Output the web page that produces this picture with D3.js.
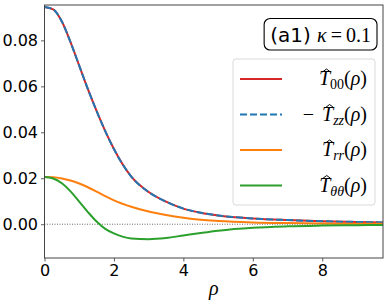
<!DOCTYPE html>
<html>
<head>
<meta charset="utf-8">
<script src="https://cdn.jsdelivr.net/npm/d3@7"></script>
<style>
  body { margin: 0; background: #fff; }
  svg { display: block; }
</style>
</head>
<body>
<svg id="chart" width="391" height="304"></svg>
<script>
// values
var rho      = [0, 0.25, 0.5, 0.75, 1.0, 1.25, 1.5, 1.75, 2.0, 2.5, 3.0, 3.5, 4.0, 4.5, 5.0, 6.0, 7.0, 8.0, 9.0, 9.75];
var t00      = [0.0945, 0.0935, 0.0882, 0.0792, 0.0690, 0.0588, 0.0493, 0.0405, 0.0327, 0.0207, 0.0140, 0.0098, 0.0068, 0.0050, 0.0038, 0.0025, 0.0018, 0.0013, 0.0010, 0.0008];
var minusTzz = [0.0945, 0.0935, 0.0882, 0.0792, 0.0690, 0.0588, 0.0493, 0.0405, 0.0327, 0.0207, 0.0140, 0.0098, 0.0068, 0.0050, 0.0038, 0.0025, 0.0018, 0.0013, 0.0010, 0.0008];
var trr      = [0.0205, 0.0204, 0.0199, 0.0190, 0.0177, 0.0161, 0.0142, 0.0122, 0.0104, 0.0076, 0.0055, 0.0040, 0.0028, 0.0019, 0.0014, 0.0008, 0.0005, 0.0003, 0.0002, 0.0002];
var ttt      = [0.0205, 0.0199, 0.0178, 0.0143, 0.0098, 0.0053, 0.0012, -0.0020, -0.0040, -0.0062, -0.0065, -0.0060, -0.0049, -0.0038, -0.0028, -0.0015, -0.0009, -0.0006, -0.0004, -0.0003];

var xTicks = [0, 2, 4, 6, 8];
var yTicks = [0.00, 0.02, 0.04, 0.06, 0.08];

var series = [
    {sub: '00', neg: false, vals: t00,      color: '#d62728', dash: null},
    {sub: 'zz', neg: true,  vals: minusTzz, color: '#1f77b4', dash: '7,3'},
    {sub: 'rr', neg: false, vals: trr,      color: '#ff7f0e', dash: null},
    {sub: 'θθ', neg: false, vals: ttt,      color: '#2ca02c', dash: null}
];

var svg = d3.select('#chart');
var plotL = 44.5, plotR = 383, plotT = 5, plotB = 258;

var x = d3.scaleLinear().domain([0, 9.75]).range([plotL, plotR]);
var y = d3.scaleLinear().domain([-0.0147, 0.0954]).range([plotB, plotT]);

svg.append('defs').append('clipPath').attr('id', 'clip')
    .append('rect')
    .attr('x', plotL).attr('y', plotT)
    .attr('width', plotR - plotL).attr('height', plotB - plotT);

// axes
var xAxis = svg.append('g')
    .attr('transform', 'translate(0,' + plotB + ')')
    .call(d3.axisBottom(x).tickValues(xTicks).tickFormat(d3.format('d')).tickSizeInner(3.5).tickSizeOuter(0).tickPadding(3));
var yAxis = svg.append('g')
    .attr('transform', 'translate(' + plotL + ',0)')
    .call(d3.axisLeft(y).tickValues(yTicks).tickFormat(d3.format('.2f')).tickSizeInner(3.5).tickSizeOuter(0).tickPadding(3));

[xAxis, yAxis].forEach(function(g) {
    g.select('.domain').remove();
    g.selectAll('.tick line').attr('stroke', '#333').attr('stroke-width', 0.8);
    g.selectAll('.tick text')
        .attr('fill', '#000')
        .style('font-family', 'DejaVu Sans')
        .style('font-size', '16px');
});

// zero reference line
svg.append('line')
    .attr('x1', plotL).attr('x2', plotR)
    .attr('y1', y(0)).attr('y2', y(0))
    .attr('stroke', '#000').attr('stroke-width', 0.6)
    .attr('stroke-dasharray', '1,1.5');

var line = d3.line()
    .x(function(d) { return x(d[0]); })
    .y(function(d) { return y(d[1]); })
    .curve(d3.curveMonotoneX);

var plot = svg.append('g').attr('clip-path', 'url(#clip)');
series.forEach(function(s) {
    plot.append('path')
        .datum(rho.map(function(r, i) { return [r, s.vals[i]]; }))
        .attr('d', line)
        .attr('fill', 'none')
        .attr('stroke', s.color)
        .attr('stroke-width', 2)
        .attr('stroke-dasharray', s.dash);
});

// frame
svg.append('rect')
    .attr('x', plotL).attr('y', plotT)
    .attr('width', plotR - plotL).attr('height', plotB - plotT)
    .attr('fill', 'none').attr('stroke', '#444').attr('stroke-width', 1);

// x label
svg.append('text')
    .attr('x', (plotL + plotR) / 2).attr('y', 295)
    .attr('text-anchor', 'middle')
    .style('font-family', 'Liberation Serif')
    .style('font-style', 'italic')
    .style('font-size', '20px')
    .text('ρ');

// legend
var legend = svg.append('g');
legend.append('rect')
    .attr('x', 233).attr('y', 59).attr('width', 142).attr('height', 146).attr('rx', 3)
    .attr('fill', '#fff').attr('fill-opacity', 0.8)
    .attr('stroke', '#d9d9d9').attr('stroke-width', 1);

series.forEach(function(s, i) {
    var yy = 79 + i * 35.5;
    legend.append('line')
        .attr('x1', 240).attr('x2', 282).attr('y1', yy).attr('y2', yy)
        .attr('stroke', s.color).attr('stroke-width', 2)
        .attr('stroke-dasharray', s.dash);

    var t = legend.append('text')
        .attr('x', 367).attr('y', yy + 6)
        .attr('text-anchor', 'end')
        .style('font-family', 'Liberation Serif')
        .style('font-size', '20px');
    if (s.neg) t.append('tspan').text('−');
    t.append('tspan').attr('dx', s.neg ? 8 : 0).style('font-style', 'italic').text('T');
    t.append('tspan').attr('dy', 4).style('font-size', '14px')
        .style('font-style', /\d/.test(s.sub) ? 'normal' : 'italic').text(s.sub);
    t.append('tspan').attr('dy', -4).text('(');
    t.append('tspan').style('font-style', 'italic').text('ρ');
    t.append('tspan').text(')');

    // hat over the T, drawn as a small chevron
    var idx = s.neg ? 1 : 0;
    var node = t.node();
    var p0 = node.getStartPositionOfChar(idx), p1 = node.getEndPositionOfChar(idx);
    var cx = (p0.x + p1.x) / 2 + 2, hy = yy - 10;
    legend.append('path')
        .attr('d', 'M' + (cx - 4) + ',' + (hy + 3) + 'L' + cx + ',' + hy + 'L' + (cx + 4) + ',' + (hy + 3))
        .attr('fill', 'none').attr('stroke', '#000').attr('stroke-width', 1);
});

// title box
var title = svg.append('g');
var tt = title.append('text')
    .attr('x', 371).attr('y', 42)
    .attr('text-anchor', 'end')
    .style('font-size', '20px');
tt.append('tspan').style('font-family', 'DejaVu Sans').text('(a1) ');
tt.append('tspan').style('font-family', 'Liberation Serif').style('font-style', 'italic').text('κ');
tt.append('tspan').style('font-family', 'Liberation Serif').text('\u2009=\u20090.1');
var bb = tt.node().getBBox();
title.insert('rect', 'text')
    .attr('x', bb.x - 6).attr('y', 18.5)
    .attr('width', bb.width + 12).attr('height', 31.5)
    .attr('rx', 6)
    .attr('fill', '#fff').attr('stroke', '#000').attr('stroke-width', 1.1);
</script>
</body>
</html>
